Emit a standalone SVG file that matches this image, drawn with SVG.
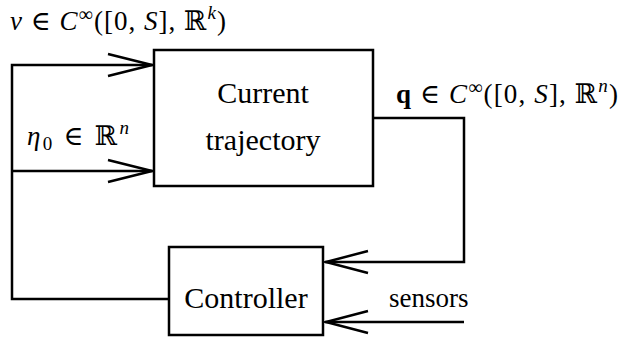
<svg xmlns="http://www.w3.org/2000/svg" width="622" height="349" viewBox="0 0 622 349">
<style>
.box{fill:#fff;stroke:#000;stroke-width:2.5}
.ln{fill:none;stroke:#000;stroke-width:2.5}
.ah{fill:none;stroke:#000;stroke-width:2.5;stroke-linejoin:miter}
.lbl{font-size:30px;text-anchor:middle}
.m{font-size:27px}
.i{font-style:italic}
</style>
<g id="connectors">
<path class="ln" d="M154,65 H12 V299 H169"/>
<path class="ln" d="M12,171 H153"/>
<path class="ln" d="M373,118 H464 V262 H325"/>
<path class="ln" d="M464,322 H325"/>
<path class="ah" d="M108,54 L152,65 L108,76"/>
<path class="ah" d="M108,160 L152,171 L108,182"/>
<path class="ah" d="M368,251 L326,262 L368,273"/>
<path class="ah" d="M368,311 L326,322 L368,333"/>
</g>
<g font-family="Liberation Serif, Times New Roman, DejaVu Serif, serif" fill="#000">
<g id="current">
<rect class="box" x="154" y="50" width="219" height="136"/>
<text class="lbl" x="263" y="103">Current</text>
<text class="lbl" x="263" y="150">trajectory</text>
</g>
<g id="controller">
<rect class="box" x="169" y="247" width="154" height="88"/>
<text class="lbl" x="246" y="308">Controller</text>
</g>
<g id="labels">
<text class="m" x="10" y="30" textLength="216" lengthAdjust="spacing"><tspan class="i">v</tspan> ∈ <tspan class="i">C</tspan><tspan font-size="20" dy="-9">∞</tspan><tspan dy="9">([0, </tspan><tspan class="i">S</tspan>], ℝ<tspan class="i" font-size="19" dy="-11">k</tspan><tspan dy="11">)</tspan></text>
<text class="m" x="396" y="103" textLength="222" lengthAdjust="spacing"><tspan font-weight="bold">q</tspan> ∈ <tspan class="i">C</tspan><tspan font-size="20" dy="-9">∞</tspan><tspan dy="9">([0, </tspan><tspan class="i">S</tspan>], ℝ<tspan class="i" font-size="19" dy="-11">n</tspan><tspan dy="11">)</tspan></text>
<text class="m" x="27" y="145" textLength="102" lengthAdjust="spacing"><tspan class="i">η</tspan><tspan font-size="19" dy="5">0</tspan><tspan dy="-5"> ∈ ℝ</tspan><tspan class="i" font-size="19" dy="-11">n</tspan></text>
<text class="m" x="389" y="307">sensors</text>
</g>
</g>
</svg>
